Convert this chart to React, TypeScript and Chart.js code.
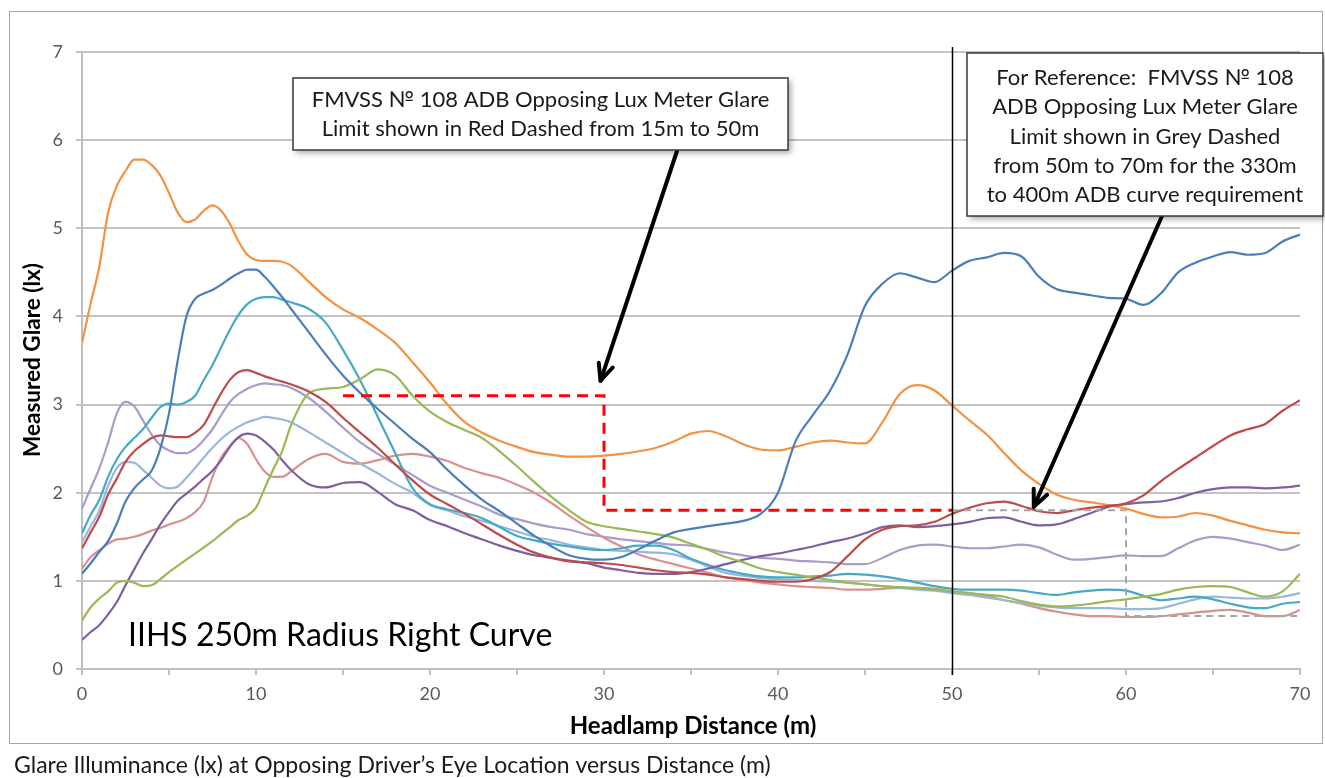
import React, { useEffect, useRef } from "react";
import { Chart, registerables } from "chart.js";

Chart.register(...registerables);

// Headlamp distance (m) at which glare was sampled
const distance = [
  0, 0.5, 1, 1.5, 2, 2.5, 3, 3.5, 4, 4.5, 5, 5.5, 6, 6.5, 7, 7.5, 8, 8.5, 9, 9.5, 10, 10.5, 11, 11.5, 12,
  13, 14, 15, 16, 17, 18, 19, 20, 21, 22, 23, 24, 25, 26, 27, 28, 29, 30, 31, 32, 33, 34, 35, 36, 37, 38, 39,
  40, 41, 42, 43, 44, 45, 46, 47, 48, 49, 50, 51, 52, 53, 54, 55, 56, 57, 58, 59, 60, 61, 62, 63, 64, 65, 66,
  67, 68, 69, 70,
];

// Measured glare (lx) for each tested headlamp system
const glareBlue = [
  1.08, 1.2, 1.33, 1.45, 1.65, 1.9, 2.05, 2.15, 2.25, 2.5, 2.9, 3.5, 4.0, 4.2, 4.26, 4.3, 4.36, 4.43, 4.49, 4.53, 4.53, 4.45, 4.34, 4.22, 4.09,
  3.83, 3.57, 3.33, 3.13, 2.95, 2.78, 2.61, 2.46, 2.26, 2.08, 1.92, 1.79, 1.65, 1.51, 1.39, 1.29, 1.25, 1.24, 1.27, 1.36, 1.46, 1.55, 1.59,
  1.62, 1.65, 1.68, 1.76, 2.0, 2.58, 2.88, 3.16, 3.57, 4.12, 4.37, 4.49, 4.44, 4.39, 4.52, 4.63, 4.67, 4.72, 4.68, 4.45, 4.31, 4.27, 4.24,
  4.21, 4.2, 4.13, 4.26, 4.5, 4.61, 4.68, 4.73, 4.7, 4.72, 4.85, 4.93,
];
const glareRed = [
  1.37, 1.55, 1.73, 1.98, 2.16, 2.35, 2.47, 2.55, 2.62, 2.65, 2.64, 2.63, 2.63, 2.68, 2.77, 2.95, 3.13, 3.28, 3.37, 3.39, 3.36, 3.32, 3.29, 3.26, 3.23,
  3.15, 3.03, 2.85, 2.68, 2.51, 2.32, 2.14, 1.98, 1.87, 1.76, 1.64, 1.52, 1.41, 1.32, 1.26, 1.22, 1.21, 1.2, 1.18, 1.15, 1.12, 1.1, 1.09,
  1.07, 1.04, 1.02, 1.0, 0.99, 0.99, 1.02, 1.1, 1.28, 1.47, 1.58, 1.62, 1.63, 1.67, 1.76, 1.83, 1.88, 1.9, 1.85, 1.79, 1.77, 1.8, 1.83,
  1.85, 1.88, 1.97, 2.13, 2.27, 2.4, 2.53, 2.65, 2.72, 2.78, 2.93, 3.05,
];
const glareGreen = [
  0.55, 0.7, 0.8, 0.88, 0.98, 1.0, 0.98, 0.94, 0.95, 1.02, 1.1, 1.17, 1.24, 1.31, 1.38, 1.45, 1.53, 1.61, 1.69, 1.74, 1.83, 2.05, 2.27, 2.47, 2.76,
  3.12, 3.18, 3.2, 3.29, 3.4, 3.33, 3.1, 2.92, 2.8, 2.71, 2.62, 2.47, 2.3, 2.12, 1.95, 1.8, 1.67, 1.62, 1.59, 1.56, 1.53, 1.49, 1.42,
  1.35, 1.27, 1.21, 1.14, 1.1, 1.07, 1.04, 1.01, 0.98, 0.96, 0.94, 0.93, 0.92, 0.9, 0.88, 0.86, 0.84, 0.82, 0.77, 0.73, 0.71, 0.72, 0.74,
  0.77, 0.79, 0.82, 0.85, 0.9, 0.93, 0.94, 0.93, 0.87, 0.82, 0.88, 1.08,
];
const glarePurple = [
  0.33, 0.42, 0.5, 0.62, 0.76, 0.95, 1.13, 1.31, 1.47, 1.64, 1.78, 1.91, 1.99, 2.07, 2.16, 2.25, 2.37, 2.52, 2.63, 2.67, 2.65, 2.58, 2.49, 2.37, 2.26,
  2.1, 2.06, 2.11, 2.12, 2.01, 1.87, 1.8, 1.69, 1.62, 1.54, 1.47, 1.4, 1.34, 1.29, 1.26, 1.23, 1.2, 1.15, 1.12, 1.09, 1.08, 1.08, 1.1,
  1.14, 1.19, 1.24, 1.28, 1.31, 1.35, 1.39, 1.44, 1.48, 1.54, 1.61, 1.63, 1.61, 1.62, 1.64, 1.67, 1.71, 1.72, 1.67, 1.63, 1.64, 1.7, 1.77,
  1.84, 1.87, 1.89, 1.9, 1.94, 2.0, 2.04, 2.06, 2.06, 2.05, 2.06, 2.08,
];
const glareAqua = [
  1.54, 1.75, 1.92, 2.18, 2.38, 2.52, 2.62, 2.72, 2.85, 2.97, 3.01, 3.0, 3.03, 3.1, 3.28, 3.45, 3.65, 3.85, 4.02, 4.14, 4.2, 4.22, 4.22, 4.19, 4.16,
  4.09, 3.93, 3.62, 3.27, 2.86, 2.45, 2.05, 1.87, 1.81, 1.77, 1.71, 1.61, 1.51, 1.46, 1.42, 1.39, 1.36, 1.35, 1.37, 1.4, 1.4, 1.35, 1.25,
  1.18, 1.12, 1.08, 1.05, 1.04, 1.04, 1.05, 1.06, 1.08, 1.07, 1.05, 1.02, 0.98, 0.94, 0.91, 0.9, 0.9, 0.9, 0.89, 0.86, 0.84, 0.87, 0.89,
  0.9, 0.89, 0.83, 0.78, 0.8, 0.82, 0.79, 0.74, 0.7, 0.69, 0.74, 0.76,
];
const glareOrange = [
  3.7, 4.15, 4.57, 5.18, 5.48, 5.65, 5.78, 5.78, 5.72, 5.6, 5.4, 5.18, 5.07, 5.1, 5.2, 5.26, 5.2, 5.05, 4.85, 4.7, 4.64, 4.63, 4.63, 4.62, 4.58,
  4.4, 4.22, 4.08, 3.98, 3.85, 3.7, 3.48, 3.25, 3.0, 2.8, 2.68, 2.59, 2.52, 2.46, 2.43, 2.41, 2.41, 2.42, 2.44, 2.47, 2.51, 2.58, 2.67,
  2.7, 2.64, 2.55, 2.49, 2.48, 2.52, 2.57, 2.59, 2.57, 2.56, 2.8, 3.12, 3.22, 3.16, 2.99, 2.82, 2.66, 2.45, 2.25, 2.1, 1.98, 1.92, 1.89,
  1.86, 1.82, 1.76, 1.72, 1.73, 1.77, 1.74, 1.68, 1.63, 1.58, 1.55, 1.54,
];
const glareLightBlue = [
  1.44, 1.62, 1.8, 2.08, 2.28, 2.35, 2.34, 2.26, 2.17, 2.08, 2.05, 2.07, 2.17, 2.28, 2.4, 2.51, 2.61, 2.69, 2.75, 2.8, 2.83, 2.86, 2.85, 2.83, 2.8,
  2.69, 2.57, 2.45, 2.33, 2.22, 2.1, 2.0, 1.86, 1.8, 1.73, 1.68, 1.62, 1.56, 1.5, 1.46, 1.41, 1.38, 1.35, 1.34, 1.33, 1.32, 1.3, 1.24,
  1.16, 1.09, 1.06, 1.03, 1.02, 1.01, 1.0, 0.99, 0.98, 0.96, 0.94, 0.92, 0.9, 0.89, 0.86, 0.84, 0.81, 0.78, 0.75, 0.72, 0.7, 0.69, 0.69,
  0.69, 0.68, 0.68, 0.69, 0.74, 0.79, 0.82, 0.81, 0.8, 0.8, 0.82, 0.86,
];
const glarePink = [
  1.14, 1.27, 1.35, 1.42, 1.47, 1.48, 1.5, 1.53, 1.57, 1.6, 1.64, 1.67, 1.71, 1.78, 1.9, 2.18, 2.4, 2.53, 2.62, 2.55, 2.38, 2.24, 2.18, 2.18, 2.24,
  2.38, 2.44, 2.35, 2.33, 2.37, 2.42, 2.44, 2.41, 2.36, 2.28, 2.22, 2.17, 2.09, 2.0, 1.88, 1.74, 1.61, 1.49, 1.39, 1.3, 1.24, 1.19, 1.14,
  1.09, 1.04, 1.01, 0.98, 0.96, 0.94, 0.93, 0.92, 0.9, 0.9, 0.91, 0.92, 0.92, 0.91, 0.88, 0.86, 0.83, 0.78, 0.74, 0.69, 0.65, 0.62, 0.6,
  0.6, 0.59, 0.59, 0.6, 0.62, 0.64, 0.66, 0.67, 0.64, 0.6, 0.6, 0.67,
];
const glareLightPurple = [
  1.82, 2.05, 2.28, 2.57, 2.9, 3.03, 2.98, 2.82, 2.66, 2.54, 2.48, 2.45, 2.45, 2.5, 2.6, 2.72, 2.88, 3.03, 3.12, 3.18, 3.22, 3.24, 3.23, 3.22, 3.19,
  3.08, 2.92, 2.74, 2.57, 2.44, 2.32, 2.2, 2.08, 2.0, 1.92, 1.84, 1.75, 1.7, 1.65, 1.61, 1.58, 1.53, 1.5, 1.47, 1.45, 1.43, 1.41, 1.4,
  1.36, 1.32, 1.29, 1.26, 1.25, 1.23, 1.22, 1.21, 1.19, 1.19, 1.26, 1.35, 1.4, 1.41, 1.39, 1.37, 1.37, 1.39, 1.41, 1.38, 1.3, 1.24, 1.25,
  1.27, 1.29, 1.28, 1.28, 1.37, 1.46, 1.5, 1.48, 1.44, 1.4, 1.35, 1.41,
];

// Regulatory glare limits (step outlines)
const redLimitX = [15, 30, 30, 50];
const redLimitY = [3.1, 3.1, 1.8, 1.8];
const greyLimitX = [50, 60, 60, 70];
const greyLimitY = [1.8, 1.8, 0.6, 0.6];

// Axis ticks
const yTicks = [0, 1, 2, 3, 4, 5, 6, 7];
const xLabelStep = 10;

const FONT = "Lato, 'Open Sans', sans-serif";

const seriesList = [
  { name: "Blue", data: glareBlue, color: "#4a7ebb" },
  { name: "Red", data: glareRed, color: "#be4b48" },
  { name: "Green", data: glareGreen, color: "#98b954" },
  { name: "Purple", data: glarePurple, color: "#7d60a0" },
  { name: "Aqua", data: glareAqua, color: "#46aac5" },
  { name: "Orange", data: glareOrange, color: "#f39241" },
  { name: "Light Blue", data: glareLightBlue, color: "#9ab6dc" },
  { name: "Pink", data: glarePink, color: "#d8918f" },
  { name: "Light Purple", data: glareLightPurple, color: "#aa9cc8" },
];

function drawArrow(ctx: CanvasRenderingContext2D, x1: number, y1: number, x2: number, y2: number) {
  const ang = Math.atan2(y2 - y1, x2 - x1);
  const head = 18;
  const spread = 0.42;
  ctx.save();
  ctx.strokeStyle = "#000";
  ctx.lineWidth = 4;
  ctx.lineCap = "round";
  ctx.lineJoin = "round";
  ctx.beginPath();
  ctx.moveTo(x1, y1);
  ctx.lineTo(x2, y2);
  ctx.stroke();
  ctx.beginPath();
  ctx.moveTo(x2 - head * Math.cos(ang - spread), y2 - head * Math.sin(ang - spread));
  ctx.lineTo(x2, y2);
  ctx.lineTo(x2 - head * Math.cos(ang + spread), y2 - head * Math.sin(ang + spread));
  ctx.stroke();
  ctx.restore();
}

function drawNote(
  ctx: CanvasRenderingContext2D,
  x: number,
  y: number,
  w: number,
  h: number,
  lines: string[],
  lineGap: number,
  firstBaseline: number
) {
  ctx.save();
  ctx.shadowColor = "rgba(0,0,0,0.35)";
  ctx.shadowBlur = 6;
  ctx.shadowOffsetX = 3;
  ctx.shadowOffsetY = 3;
  ctx.fillStyle = "#fff";
  ctx.fillRect(x, y, w, h);
  ctx.restore();
  ctx.save();
  ctx.strokeStyle = "#3a3a3a";
  ctx.lineWidth = 1.5;
  ctx.strokeRect(x, y, w, h);
  ctx.fillStyle = "#1a1a1a";
  ctx.font = `22px ${FONT}`;
  ctx.textAlign = "center";
  ctx.textBaseline = "alphabetic";
  lines.forEach((t, i) => ctx.fillText(t, x + w / 2, y + firstBaseline + i * lineGap));
  ctx.restore();
}

const overlayPlugin = {
  id: "glareOverlay",
  beforeDraw(chart: any) {
    const ctx = chart.ctx as CanvasRenderingContext2D;
    ctx.save();
    ctx.fillStyle = "#fff";
    ctx.fillRect(0, 0, chart.width, chart.height);
    ctx.strokeStyle = "#a6a6a6";
    ctx.lineWidth = 1;
    ctx.strokeRect(9.5, 11.5, 1313, 732);
    ctx.restore();
  },
  afterDatasetsDraw(chart: any) {
    const ctx = chart.ctx as CanvasRenderingContext2D;
    const xs = chart.scales.x;
    const ys = chart.scales.y;
    const area = chart.chartArea;

    // vertical marker at 50 m
    const x50 = Math.round(xs.getPixelForValue(50)) + 0.5;
    ctx.save();
    ctx.strokeStyle = "#000";
    ctx.lineWidth = 1.5;
    ctx.beginPath();
    ctx.moveTo(x50, area.top - 5);
    ctx.lineTo(x50, area.bottom + 6);
    ctx.stroke();
    ctx.restore();

    // text inside the plot
    ctx.save();
    ctx.fillStyle = "#000";
    ctx.font = `32px ${FONT}`;
    ctx.textAlign = "left";
    ctx.textBaseline = "middle";
    ctx.fillText("IIHS 250m Radius Right Curve", 128, 636);
    ctx.restore();

    // arrows
    drawArrow(ctx, 677, 151, xs.getPixelForValue(29.8), ys.getPixelForValue(3.27));
    drawArrow(ctx, 1162, 216, xs.getPixelForValue(54.7), ys.getPixelForValue(1.84));

    // callout boxes
    drawNote(
      ctx,
      293,
      78,
      495,
      72,
      ["FMVSS \u2116 108 ADB Opposing Lux Meter Glare", "Limit shown in Red Dashed from 15m to 50m"],
      29,
      29
    );
    drawNote(
      ctx,
      967,
      53,
      356,
      163,
      [
        "For Reference:  FMVSS \u2116 108",
        "ADB Opposing Lux Meter Glare",
        "Limit shown in Grey Dashed",
        "from 50m to 70m for the 330m",
        "to 400m ADB curve requirement",
      ],
      29.3,
      32
    );

    // axis titles and caption
    ctx.save();
    ctx.fillStyle = "#000";
    ctx.textAlign = "center";
    ctx.textBaseline = "middle";
    ctx.font = `bold 24px ${FONT}`;
    ctx.fillText("Headlamp Distance (m)", 693, 726);
    ctx.translate(33, 360);
    ctx.rotate(-Math.PI / 2);
    ctx.font = `bold 22.5px ${FONT}`;
    ctx.fillText("Measured Glare (lx)", 0, 0);
    ctx.restore();

    ctx.save();
    ctx.fillStyle = "#1a1a1a";
    ctx.font = `23px ${FONT}`;
    ctx.textAlign = "left";
    ctx.textBaseline = "middle";
    ctx.fillText("Glare Illuminance (lx) at Opposing Driver\u2019s Eye Location versus Distance (m)", 14, 766);
    ctx.restore();
  },
};

export default function App() {
  const canvasRef = useRef<HTMLCanvasElement | null>(null);

  useEffect(() => {
    document.body.style.margin = "0";
    const canvas = canvasRef.current;
    if (!canvas) return;

    const datasets: any[] = seriesList.map((s) => ({
      label: s.name,
      data: distance.map((d, i) => ({ x: d, y: s.data[i] })),
      borderColor: s.color,
      borderWidth: 2.2,
      pointRadius: 0,
      fill: false,
      cubicInterpolationMode: "monotone",
    }));

    datasets.push({
      label: "Red limit",
      data: redLimitX.map((x, i) => ({ x, y: redLimitY[i] })),
      borderColor: "#ff0000",
      borderWidth: 3,
      borderDash: [11, 7],
      pointRadius: 0,
      tension: 0,
      fill: false,
      order: -1,
    });
    datasets.push({
      label: "Grey limit",
      data: greyLimitX.map((x, i) => ({ x, y: greyLimitY[i] })),
      borderColor: "#a6a6a6",
      borderWidth: 2,
      borderDash: [7, 5],
      pointRadius: 0,
      tension: 0,
      fill: false,
      order: -1,
    });

    const chart = new Chart(canvas, {
      type: "line",
      data: { datasets },
      options: {
        responsive: false,
        animation: false,
        events: [],
        layout: { padding: { top: 52, right: 25, left: 0, bottom: 0 } },
        plugins: { legend: { display: false }, tooltip: { enabled: false }, title: { display: false } },
        scales: {
          x: {
            type: "linear",
            min: 0,
            max: 70,
            afterFit: (s: any) => {
              s.height = 109;
            },
            ticks: {
              stepSize: 5,
              color: "#595959",
              font: { family: FONT, size: 18 },
              padding: 8,
              maxRotation: 0,
              autoSkip: false,
              callback: (v: any) => (Number(v) % xLabelStep === 0 ? String(v) : ""),
            },
            grid: { drawOnChartArea: false, drawTicks: true, tickLength: 6, color: "#bfbfbf", lineWidth: 2 },
            border: { color: "#bfbfbf", width: 2 },
          },
          y: {
            type: "linear",
            min: yTicks[0],
            max: yTicks[yTicks.length - 1],
            afterFit: (s: any) => {
              s.width = 82;
            },
            afterBuildTicks: (s: any) => {
              s.ticks = yTicks.map((v) => ({ value: v }));
            },
            ticks: {
              color: "#595959",
              font: { family: FONT, size: 18 },
              padding: 13,
            },
            grid: { drawTicks: true, tickLength: 6, color: "#c3c3c3", lineWidth: 2 },
            border: { color: "#bfbfbf", width: 2 },
          },
        },
      },
      plugins: [overlayPlugin],
    });

    return () => chart.destroy();
  }, []);

  return (
    <div style={{ position: "relative", width: 1325, height: 778 }}>
      <canvas ref={canvasRef} width={1325} height={778} style={{ display: "block" }} />
    </div>
  );
}
